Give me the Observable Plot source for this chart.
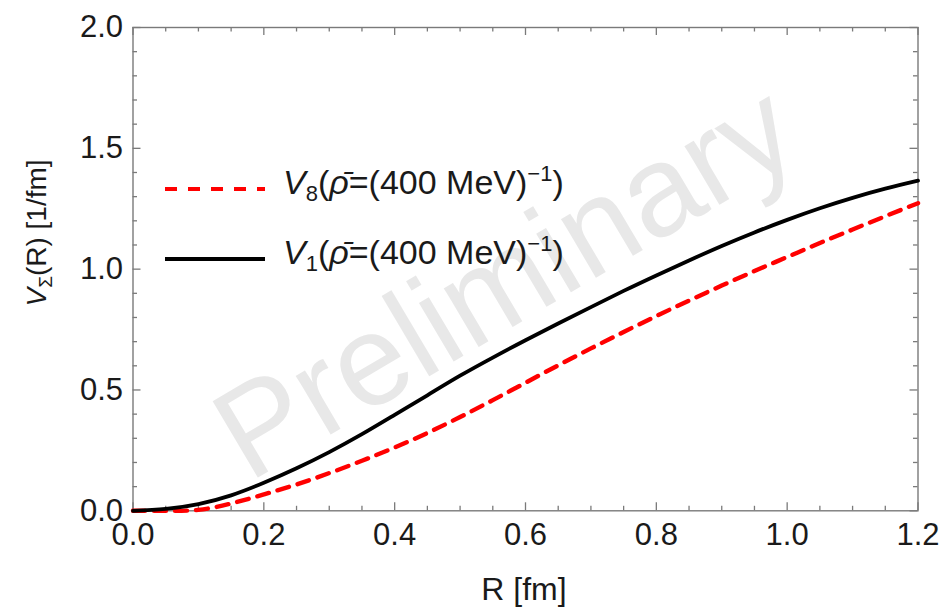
<!DOCTYPE html>
<html>
<head>
<meta charset="utf-8">
<script src="https://cdn.jsdelivr.net/npm/d3@7"></script>
<script src="https://cdn.jsdelivr.net/npm/@observablehq/plot@0.6"></script>
<style>
  html, body { margin: 0; padding: 0; background: #fff; }
  #chart svg { display: block; }
</style>
</head>
<body>
<div id="chart"></div>
<script>
// Data
const R  = [0, 0.05, 0.1, 0.15, 0.2, 0.25, 0.3, 0.35, 0.4, 0.45, 0.5, 0.55, 0.6, 0.65, 0.7, 0.75, 0.8, 0.85, 0.9, 0.95, 1.0, 1.05, 1.1, 1.15, 1.2];
const V1 = [0, 0.008, 0.028, 0.064, 0.116, 0.176, 0.243, 0.317, 0.397, 0.478, 0.559, 0.634, 0.706, 0.775, 0.843, 0.91, 0.974, 1.036, 1.096, 1.152, 1.204, 1.252, 1.295, 1.333, 1.366];
const V8 = [0, 0.0, 0.004, 0.03, 0.068, 0.109, 0.156, 0.207, 0.262, 0.322, 0.388, 0.458, 0.53, 0.602, 0.672, 0.74, 0.806, 0.87, 0.932, 0.992, 1.05, 1.108, 1.164, 1.219, 1.273];

const xMajor = [0, 0.2, 0.4, 0.6, 0.8, 1.0, 1.2];
const xMinor = [0.05, 0.1, 0.15, 0.25, 0.3, 0.35, 0.45, 0.5, 0.55, 0.65, 0.7, 0.75, 0.85, 0.9, 0.95, 1.05, 1.1, 1.15];
const yMajor = [0, 0.5, 1.0, 1.5, 2.0];
const yMinor = [0.1, 0.2, 0.3, 0.4, 0.6, 0.7, 0.8, 0.9, 1.1, 1.2, 1.3, 1.4, 1.6, 1.7, 1.8, 1.9];

const seriesSubs = ["8", "1"];
const watermark = "Preliminary";

const rows8 = R.map((r, i) => ({R: r, V: V8[i]}));
const rows1 = R.map((r, i) => ({R: r, V: V1[i]}));

const W = 943, H = 609;
const mL = 132.5, mR = 25.5, mT = 27, mB = 98.7;
const plotW = W - mL - mR, plotH = H - mT - mB;
const xDom = [0, 1.2], yDom = [0, 2];
const maj = 8, mnr = 4.5;
const frameColor = "#7a7a7a";
const FONT = "'Liberation Sans', Arial, sans-serif";
const tk = {stroke: frameColor, strokeWidth: 1.3};

const chart = Plot.plot({
  width: W, height: H,
  marginLeft: mL, marginRight: mR, marginTop: mT, marginBottom: mB,
  style: {fontFamily: FONT, background: "#fff", color: "#1a1a1a"},
  x: {domain: xDom},
  y: {domain: yDom},
  marks: [
    Plot.text([watermark], {frameAnchor: "middle", dx: -20, dy: 14, rotate: -30.6, fontSize: 129, fill: "#e8e8e8", text: d => d}),
    // inward ticks on all four sides (length in pixels via insets)
    Plot.tickX(xMajor, {x: d => d, insetTop: plotH - maj, ...tk}),
    Plot.tickX(xMinor, {x: d => d, insetTop: plotH - mnr, ...tk}),
    Plot.tickX(xMajor, {x: d => d, insetBottom: plotH - maj, ...tk}),
    Plot.tickX(xMinor, {x: d => d, insetBottom: plotH - mnr, ...tk}),
    Plot.tickY(yMajor, {y: d => d, insetRight: plotW - maj, ...tk}),
    Plot.tickY(yMinor, {y: d => d, insetRight: plotW - mnr, ...tk}),
    Plot.tickY(yMajor, {y: d => d, insetLeft: plotW - maj, ...tk}),
    Plot.tickY(yMinor, {y: d => d, insetLeft: plotW - mnr, ...tk}),
    Plot.frame({stroke: frameColor, strokeWidth: 1.4}),
    Plot.axisX(xMajor, {tickSize: 0, tickPadding: 12, tickFormat: d3.format(".1f"), fontSize: 31, label: null, fill: "#1a1a1a"}),
    Plot.axisY(yMajor, {tickSize: 0, tickPadding: 10, tickFormat: d3.format(".1f"), fontSize: 31, label: null, fill: "#1a1a1a"}),
    Plot.line(rows8, {x: "R", y: "V", stroke: "#ff0000", strokeWidth: 4.4, strokeDasharray: "12,9", curve: "natural"}),
    Plot.line(rows1, {x: "R", y: "V", stroke: "#000000", strokeWidth: 3.8, curve: "natural"})
  ]
});

document.getElementById("chart").appendChild(chart);

const svg = d3.select(chart);

// y axis title
const yt = svg.append("text")
  .attr("transform", "translate(46,233) rotate(-90)")
  .attr("text-anchor", "middle")
  .attr("font-family", FONT).attr("font-size", 28).attr("fill", "#1a1a1a");
yt.append("tspan").attr("font-style", "italic").text("V");
yt.append("tspan").attr("font-size", 19).attr("dy", 6).text("Σ");
yt.append("tspan").attr("dy", -6).text("(R) [1/fm]");

// x axis title
svg.append("text")
  .attr("x", 524).attr("y", 600)
  .attr("text-anchor", "middle")
  .attr("font-family", FONT).attr("font-size", 32).attr("fill", "#1a1a1a")
  .text("R [fm]");

// legend
const legend = [
  {sub: seriesSubs[0], y: 189, stroke: "#ff0000", dash: "12,11", sw: 4.2},
  {sub: seriesSubs[1], y: 259, stroke: "#000000", dash: null, sw: 4}
];
legend.forEach(l => {
  svg.append("line")
    .attr("x1", 165).attr("x2", 265).attr("y1", l.y).attr("y2", l.y)
    .attr("stroke", l.stroke).attr("stroke-width", l.sw)
    .attr("stroke-dasharray", l.dash);
  const t = svg.append("text")
    .attr("x", 283).attr("y", l.y + 5)
    .attr("text-anchor", "start")
    .attr("font-family", FONT).attr("font-size", 34).attr("fill", "#1a1a1a");
  t.append("tspan").attr("font-style", "italic").text("V");
  t.append("tspan").attr("font-size", 22).attr("dy", 7).text(l.sub);
  t.append("tspan").attr("dy", -7).text("(");
  t.append("tspan").attr("font-style", "italic").text("ρ\u0304");
  t.append("tspan").text("=(400 MeV)");
  t.append("tspan").attr("font-size", 22).attr("dy", -13).text("\u22121");
  t.append("tspan").attr("dy", 13).text(")");
});
</script>
</body>
</html>
